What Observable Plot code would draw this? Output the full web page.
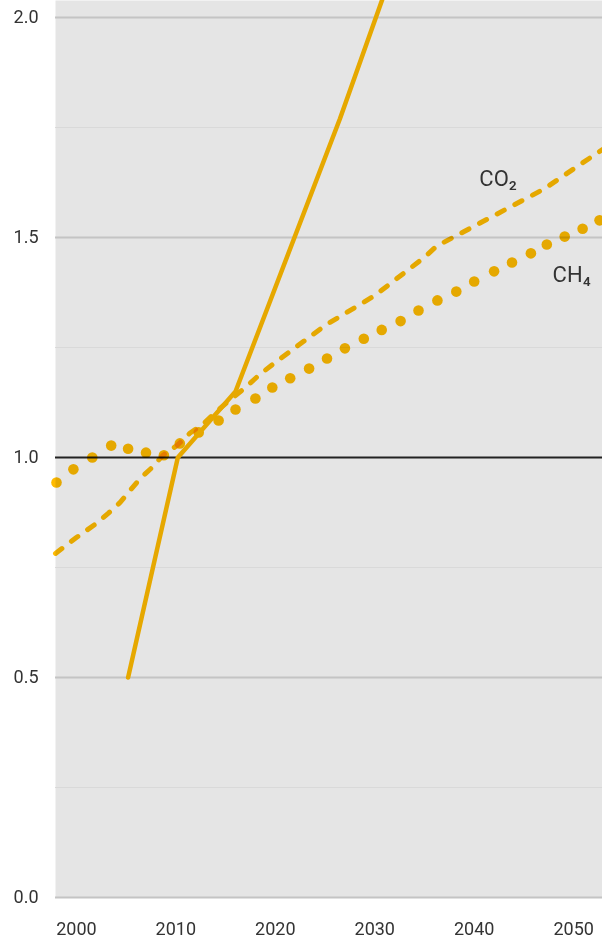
<!DOCTYPE html>
<html><head><meta charset="utf-8">
<script src="https://cdn.jsdelivr.net/npm/d3@7"></script>
<script src="https://cdn.jsdelivr.net/npm/@observablehq/plot@0.6"></script>
<style>html,body{margin:0;padding:0;background:#fff;} svg{display:block;}</style>
</head><body><div id="chart"></div>
<script>
// Solid series
const solidYears  = [2005.2, 2010.2, 2016.0, 2026.5, 2032.0];
const solidValues = [0.50,   1.00,   1.15,   1.77,   2.12];

// CO2 (dashed)
const co2Years  = [1997.9, 2000, 2002, 2003.2, 2004.4, 2006.4, 2007.6, 2008.7, 2010.1, 2011.4, 2012.8, 2014.2, 2015.5, 2017.0, 2018.3, 2019.7, 2025, 2030, 2035, 2036.2, 2047.0, 2050, 2052.9];
const co2Values = [0.782,  0.818, 0.850, 0.873, 0.898, 0.952, 0.977, 1.005, 1.027, 1.055, 1.077, 1.107, 1.132, 1.159, 1.186, 1.211, 1.300, 1.368, 1.455, 1.480, 1.610, 1.656, 1.700];

// CH4 (dotted)
const ch4Years  = [1998.0, 1999.7, 2001.6, 2003.5, 2005.2, 2007.0, 2008.8, 2010.4, 2012.3, 2014.3, 2016.0, 2018.0, 2019.7, 2021.5, 2023.4, 2025.2, 2027.0, 2028.9, 2030.7, 2032.6, 2034.4, 2036.3, 2038.2, 2040.0, 2042.0, 2043.8, 2045.7, 2047.3, 2049.1, 2050.9, 2052.6];
const ch4Values = [0.943,  0.973,  1.000,  1.027,  1.020,  1.011,  1.005,  1.032,  1.057,  1.084,  1.109,  1.134,  1.159,  1.180,  1.202,  1.225,  1.248,  1.270,  1.290,  1.310,  1.334,  1.357,  1.377,  1.400,  1.423,  1.443,  1.464,  1.484,  1.502,  1.520,  1.539];

// Labels
const labelNames  = ["CO₂", "CH₄"];
const labelYears  = [2042.4, 2049.8];
const labelValues = [1.632, 1.414];

// Ticks & grid
const xTicks = [2000, 2010, 2020, 2030, 2040, 2050];
const yTicks = [0, 0.5, 1.0, 1.5, 2.0];
const majorGrid = [0, 0.5, 1.5, 2.0];
const minorGrid = [0.25, 0.75, 1.25, 1.75];
const baseline = [1.0];

const solid = solidYears.map((x, i) => ({x, y: solidValues[i]}));
const co2 = co2Years.map((x, i) => ({x, y: co2Values[i]}));
const ch4 = ch4Years.map((x, i) => ({x, y: ch4Values[i]}));
const labels = labelNames.map((t, i) => ({t, x: labelYears[i], y: labelValues[i]}));

const color = "#ffbb00";
const solidColor = "#e6a800";

const chart = Plot.plot({
  width: 602,
  height: 943,
  marginLeft: 55,
  marginRight: 0,
  marginTop: 0,
  marginBottom: 46,
  style: {fontFamily: "Roboto, sans-serif", fontSize: "18px", color: "#333", background: "#fff", overflow: "visible"},
  x: {domain: [1997.9, 2052.9], ticks: xTicks, tickFormat: d => String(d), tickSize: 0, tickPadding: 25, label: null},
  y: {domain: [0, 2.0386], ticks: yTicks, tickFormat: d => d.toFixed(1), tickSize: 0, tickPadding: 17, label: null},
  marks: [
    Plot.frame({fill: "#e5e5e5", stroke: null}),
    Plot.ruleY(minorGrid, {stroke: "#d9d9d9", strokeWidth: 1}),
    Plot.ruleY(majorGrid, {stroke: "#c4c4c4", strokeWidth: 2}),
    Plot.ruleY(baseline, {stroke: "#222", strokeWidth: 2}),
    Plot.dot(ch4, {x: "x", y: "y", r: 5.3, fill: color, stroke: null, mixBlendMode: "multiply"}),
    Plot.line(co2, {x: "x", y: "y", stroke: color, strokeWidth: 5, strokeDasharray: "8 12", strokeLinecap: "round", mixBlendMode: "multiply"}),
    Plot.line(solid, {x: "x", y: "y", stroke: solidColor, strokeWidth: 4.5, strokeLinecap: "round", clip: true}),
    Plot.text(labels, {x: "x", y: "y", text: "t", fontSize: 22, fill: "#333", fontFamily: "Roboto, sans-serif"})
  ]
});
document.getElementById("chart").appendChild(chart);
</script>
</body></html>
